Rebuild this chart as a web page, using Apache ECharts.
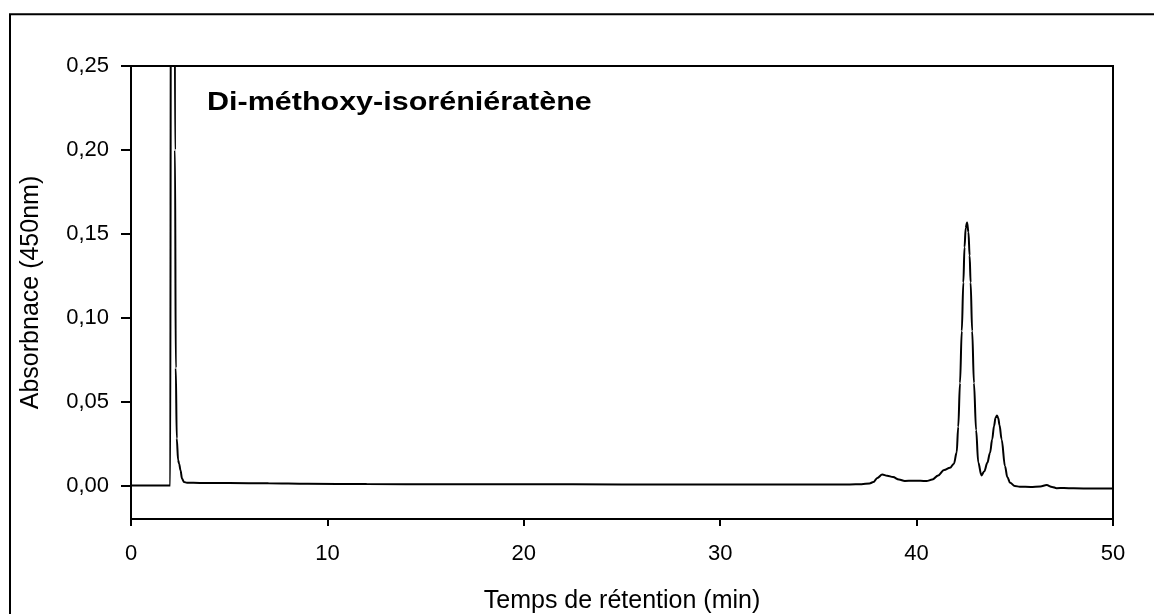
<!DOCTYPE html>
<html>
<head>
<meta charset="utf-8">
<script src="https://cdn.jsdelivr.net/npm/echarts@6/dist/echarts.min.js"></script>
<style>
  html, body { margin: 0; padding: 0; background: #fff; }
  #chart { width: 1154px; height: 614px; }
</style>
</head>
<body>
<div id="chart"></div>
<script>
// Chromatogram trace: retention time (min) and absorbance at 450 nm
const retentionTime = [
  0, 1.0, 2.0, 2.02, 2.05, 2.13, 2.21, 2.24, 2.28, 2.33, 2.40, 2.45, 2.52, 2.60, 2.70, 2.85,
  3.5, 5.0, 7.0, 9.0, 12.0, 16.0, 20.0, 25.0, 30.0, 34.0, 36.6,
  37.2, 37.6, 37.8, 38.0, 38.25, 38.5, 38.8, 39.1, 39.4, 39.8, 40.2, 40.5, 40.8, 41.1,
  41.4, 41.7, 41.9, 42.04, 42.12, 42.21, 42.30, 42.38, 42.44, 42.50, 42.57, 42.64, 42.70, 42.75, 42.83,
  42.92, 43.03, 43.14, 43.30, 43.45, 43.60, 43.74, 43.85, 43.94, 44.02, 44.09, 44.16, 44.22, 44.33, 44.50,
  44.62, 44.76, 45.0, 45.26, 45.8, 46.3, 46.62, 46.9, 47.13, 47.5, 48.0, 49.0, 50.0
];
const absorbance = [
  0.0000, 0.0000, 0.0000, 0.0000, 0.5000, 1.1000, 0.5000, 0.2000, 0.0700, 0.0280, 0.0150, 0.0130, 0.0090, 0.0040, 0.0020, 0.0016,
  0.0015, 0.0014, 0.0013, 0.0010, 0.0008, 0.0007, 0.0007, 0.0006, 0.0005, 0.0005, 0.0006,
  0.0007, 0.0012, 0.0020, 0.0045, 0.0065, 0.0058, 0.0050, 0.0035, 0.0027, 0.0028, 0.0028, 0.0026, 0.0035, 0.0060,
  0.0092, 0.0105, 0.0130, 0.0196, 0.0350, 0.0610, 0.0920, 0.1210, 0.1420, 0.1535, 0.1567, 0.1510, 0.1370, 0.1210, 0.0920,
  0.0610, 0.0330, 0.0137, 0.0060, 0.0085, 0.0135, 0.0195, 0.0275, 0.0353, 0.0403, 0.0417, 0.0400, 0.0360, 0.0274, 0.0115,
  0.0050, 0.0016, -0.0003, -0.0008, -0.0009, -0.0006, 0.0002, -0.0009, -0.0016, -0.0015, -0.0017, -0.0018, -0.0018
];
const yTickValues = [0, 0.05, 0.10, 0.15, 0.20, 0.25];

const chartTitle = 'Di-méthoxy-isoréniératène';
const xAxisName = 'Temps de rétention (min)';
const yAxisName = 'Absorbnace (450nm)';

const trace = retentionTime.map((t, i) => [t, absorbance[i]]);
const font = "'Liberation Sans', Arial, sans-serif";

const chart = echarts.init(document.getElementById('chart'), null, { renderer: 'canvas' });
chart.setOption({
  backgroundColor: '#ffffff',
  animation: false,
  graphic: [{
    // outer frame around the figure
    type: 'rect',
    silent: true,
    shape: { x: 10, y: 14.3, width: 1200, height: 700 },
    style: { fill: 'none', stroke: '#000', lineWidth: 2 }
  }, {
    // compound name inside the plot, drawn a little wide
    type: 'text',
    silent: true,
    x: 207,
    y: 91,
    scaleX: 1.22,
    style: {
      text: chartTitle,
      fill: '#000',
      font: "bold 25px 'Liberation Sans', Arial, sans-serif",
      textVerticalAlign: 'top'
    }
  }],
  grid: {
    left: 131, right: 41, top: 66, bottom: 95,
    outerBoundsMode: 'none',
    containLabel: false,
    show: true, borderColor: '#000', borderWidth: 2, backgroundColor: 'transparent'
  },
  xAxis: {
    type: 'value',
    min: 0, max: 50, interval: 10,
    name: xAxisName,
    nameLocation: 'middle',
    nameGap: 70,
    nameTextStyle: { fontFamily: font, fontSize: 25, color: '#000' },
    axisLine: { show: true, onZero: false, lineStyle: { color: '#000', width: 2 } },
    axisTick: { show: true, inside: false, length: 7, lineStyle: { color: '#000', width: 2 } },
    axisLabel: { fontFamily: font, fontSize: 22, color: '#000', margin: 24 },
    splitLine: { show: false }
  },
  yAxis: {
    type: 'value',
    min: -0.02, max: 0.25,
    name: yAxisName,
    nameLocation: 'middle',
    nameGap: 87,
    nameTextStyle: { fontFamily: font, fontSize: 25, color: '#000' },
    axisLine: { show: true, lineStyle: { color: '#000', width: 2 } },
    axisTick: { show: true, inside: false, length: 10, customValues: yTickValues, lineStyle: { color: '#000', width: 2 } },
    axisLabel: {
      fontFamily: font, fontSize: 22, color: '#000', margin: 22,
      customValues: yTickValues,
      formatter: v => v.toFixed(2).replace('.', ',')
    },
    splitLine: { show: false }
  },
  series: [{
    type: 'line',
    data: trace,
    clip: true,
    showSymbol: false,
    smooth: 0.35,
    smoothMonotone: 'x',
    lineStyle: { color: '#000', width: 2 }
  }]
});
</script>
</body>
</html>
